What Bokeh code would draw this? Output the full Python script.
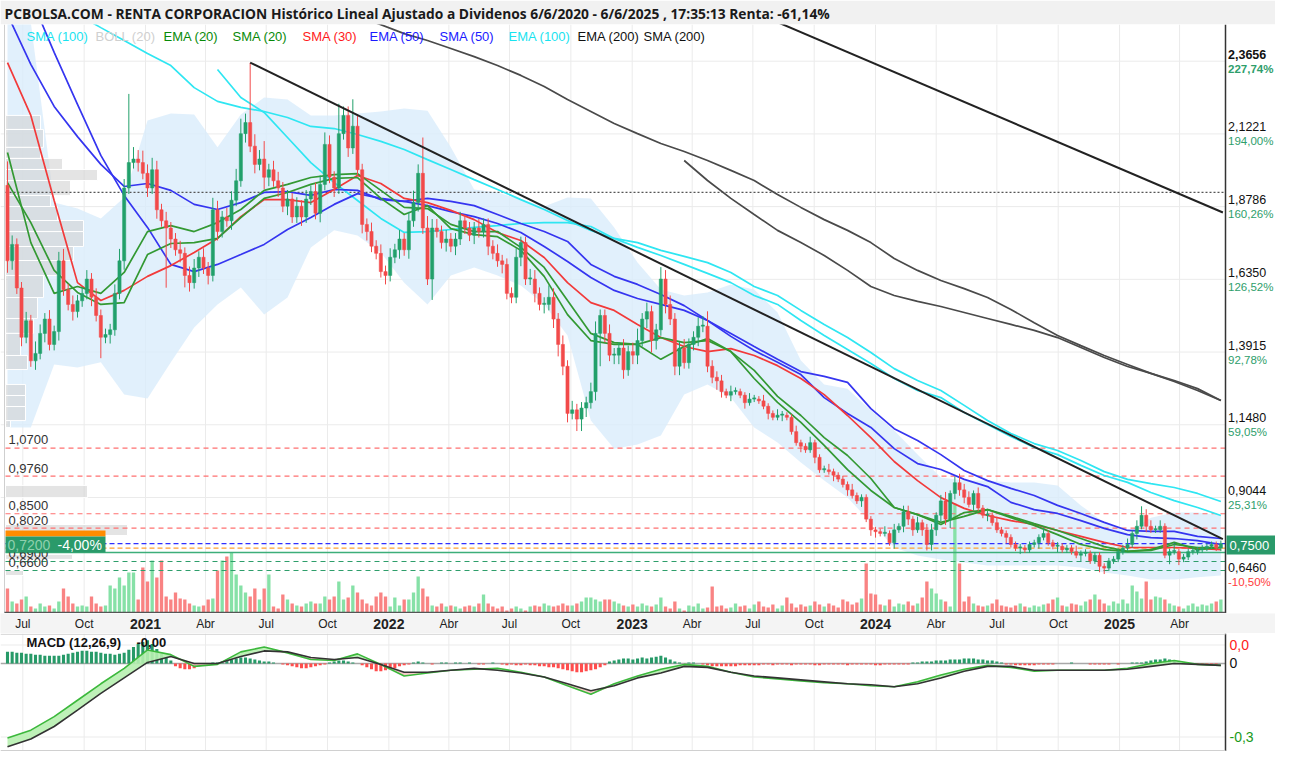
import numpy as np
import pandas as pd
from bokeh.plotting import figure
from bokeh.layouts import column
from bokeh.models import Range1d
from bokeh.core.properties import value
from bokeh.embed import file_html
from bokeh.resources import INLINE

# ============================ DATA ============================
TITLE = ("PCBOLSA.COM - RENTA CORPORACION Histórico Lineal Ajustado a Dividenos "
         "6/6/2020 - 6/6/2025 , 17:35:13 Renta: -61,14%")

first_week = "2020-06-08"          # weekly candles
first_open = 1.95
closes = [
    1.697, 1.752, 1.606, 1.441, 1.496, 1.362, 1.387, 1.454, 1.502, 1.417,
    1.460, 1.697, 1.600, 1.551, 1.527, 1.563, 1.588, 1.636, 1.575, 1.514,
    1.441, 1.450, 1.466, 1.588, 1.697, 1.941, 2.026, 2.038, 2.026, 1.990,
    1.941, 2.002, 1.868, 1.831, 1.807, 1.770, 1.734, 1.722, 1.648, 1.624,
    1.673, 1.709, 1.673, 1.648, 1.868, 1.795, 1.844, 1.831, 1.900, 1.965,
    2.123, 2.160, 2.081, 2.020, 2.038, 1.977, 2.002, 1.965, 1.941, 1.880,
    1.904, 1.844, 1.880, 1.844, 1.904, 1.929,
    1.856, 1.953, 2.087, 1.977, 1.941, 2.123, 2.184, 2.075, 2.148, 2.002,
    1.819, 1.795, 1.746, 1.722, 1.661, 1.648, 1.709, 1.734, 1.770, 1.734,
    1.831, 1.892, 1.990, 1.807, 1.636, 1.807, 1.795, 1.758, 1.770, 1.746,
    1.770, 1.831, 1.807, 1.783, 1.807, 1.795, 1.819, 1.746, 1.722, 1.697,
    1.685, 1.588, 1.575, 1.709, 1.758, 1.636, 1.636, 1.588, 1.551, 1.551,
    1.575, 1.502, 1.417, 1.344, 1.186, 1.198, 1.167, 1.204, 1.222, 1.259,
    1.454, 1.514, 1.454, 1.381, 1.381, 1.405,
    1.332, 1.393, 1.381, 1.430, 1.502, 1.527, 1.430, 1.466, 1.636, 1.551,
    1.502, 1.344, 1.405, 1.356, 1.417, 1.441, 1.478, 1.478, 1.344, 1.307,
    1.295, 1.259, 1.247, 1.259, 1.259, 1.247, 1.222, 1.234, 1.234, 1.228,
    1.210, 1.186, 1.173, 1.180, 1.180, 1.173, 1.125, 1.088, 1.076, 1.064,
    1.088, 1.039, 0.997, 0.997, 0.991, 0.979, 0.966, 0.948, 0.930, 0.911,
    0.893, 0.905, 0.832, 0.796, 0.790, 0.784, 0.784, 0.753, 0.796, 0.808,
    0.857, 0.832, 0.796, 0.820, 0.796, 0.747, 0.796,
    0.845, 0.893, 0.832, 0.918, 0.954, 0.930, 0.905, 0.881, 0.918, 0.869,
    0.845, 0.845, 0.820, 0.796, 0.784, 0.771, 0.747, 0.735, 0.735, 0.729,
    0.747, 0.753, 0.771, 0.784, 0.753, 0.741, 0.741, 0.729, 0.735, 0.723,
    0.711, 0.717, 0.717, 0.692, 0.711, 0.674, 0.668, 0.692, 0.698, 0.723,
    0.735, 0.747, 0.784, 0.808, 0.845, 0.808, 0.796, 0.796, 0.808, 0.711,
    0.723, 0.723, 0.698, 0.705, 0.723, 0.723, 0.729, 0.735, 0.741, 0.747,
    0.735, 0.750]

# upper / lower shadow lengths, in hundredths of a euro
wick_up = [
    8, 3, 2, 2, 3, 2, 4, 3, 2, 3, 2, 3, 4, 2, 3, 2, 2, 3, 2, 3,
    2, 2, 2, 3, 4, 3, 23, 4, 3, 4, 3, 4, 3, 2, 3, 2, 2, 3, 2, 3,
    3, 2, 3, 2, 4, 3, 2, 3, 3, 4, 5, 3, 20, 4, 3, 6, 2, 3, 3, 2,
    3, 2, 3, 2, 3, 2, 3, 3, 4, 3, 2, 10, 3, 3, 9, 4, 2, 2, 3, 2,
    3, 2, 3, 2, 3, 2, 3, 4, 3, 12, 4, 3, 3, 2, 3, 2, 2, 3, 2, 2,
    2, 3, 2, 2, 2, 3, 2, 2, 2, 3, 2, 2, 3, 3, 2, 2, 4, 3, 2, 3,
    2, 3, 2, 2, 2, 3, 4, 2, 2, 3, 2, 2, 3, 2, 3, 4, 2, 3, 2, 2,
    4, 3, 3, 2, 2, 3, 2, 2, 3, 3, 5, 2, 2, 2, 1, 2, 1, 1, 1, 2,
    1, 1, 2, 1, 1, 2, 1, 1, 1, 2, 1, 1, 2, 1, 1, 1, 2, 1, 1, 1,
    1, 2, 1, 1, 1, 1, 1, 1, 2, 1, 2, 1, 2, 2, 1, 2, 1, 2, 2, 1,
    2, 3, 1, 2, 3, 2, 2, 1, 2, 1, 1, 1, 2, 1, 1, 1, 1, 1, 1, 1,
    1, 1, 2, 1, 1, 1, 1, 1, 1, 2, 1, 1, 1, 1, 1, 1, 1, 1, 1, 1,
    2, 1, 2, 3, 2, 2, 1, 2, 1, 1, 2, 1, 1, 1, 1, 1, 1, 1, 1, 1, 1]
wick_dn = [
    4, 3, 2, 3, 2, 2, 3, 2, 3, 2, 2, 3, 2, 2, 3, 2, 2, 2, 3, 2,
    7, 2, 3, 2, 2, 3, 2, 2, 3, 2, 3, 2, 3, 2, 20, 3, 2, 3, 4, 3,
    2, 3, 2, 3, 2, 3, 2, 2, 3, 2, 2, 3, 2, 3, 2, 4, 3, 2, 3, 2,
    3, 2, 2, 3, 2, 2, 2, 3, 2, 2, 3, 2, 2, 3, 2, 2, 3, 3, 2, 2,
    2, 3, 2, 2, 3, 2, 3, 2, 3, 2, 2, 7, 2, 2, 3, 2, 3, 2, 2, 2,
    3, 2, 2, 3, 2, 2, 3, 2, 2, 2, 3, 2, 2, 3, 2, 3, 2, 3, 4, 3,
    3, 2, 4, 4, 3, 2, 3, 11, 3, 2, 3, 3, 3, 2, 3, 3, 2, 3, 4, 3,
    2, 3, 2, 3, 3, 2, 2, 2, 3, 2, 2, 2, 3, 2, 1, 2, 1, 1, 2, 1,
    1, 1, 1, 2, 1, 1, 2, 1, 1, 1, 2, 1, 1, 2, 1, 1, 1, 2, 1, 1,
    2, 1, 1, 2, 1, 2, 2, 1, 1, 1, 2, 1, 2, 2, 2, 1, 2, 2, 2, 2,
    2, 2, 3, 2, 2, 2, 1, 2, 1, 1, 2, 1, 1, 1, 2, 1, 1, 2, 1, 1,
    1, 2, 1, 1, 1, 2, 1, 1, 1, 1, 2, 1, 1, 1, 2, 2, 1, 1, 1, 1,
    1, 1, 2, 1, 2, 1, 1, 1, 1, 3, 1, 2, 1, 1, 1, 1, 1, 1, 1, 1, 1]

# weekly volume (relative units)
volume = [
    25, 12, 10, 14, 17, 7, 5, 10, 7, 8, 5, 12, 25, 17, 10, 7, 8, 7, 17, 10,
    7, 8, 28, 25, 36, 28, 41, 41, 14, 46, 32, 53, 36, 53, 17, 14, 21, 15, 14, 10,
    8, 7, 8, 14, 15, 43, 53, 57, 61, 39, 28, 21, 17, 25, 14, 25, 39, 7, 5, 19,
    14, 10, 8, 7, 10, 12,
    10, 10, 17, 14, 17, 32, 14, 16, 28, 21, 14, 10, 8, 17, 21, 17, 7, 16, 8, 14,
    14, 21, 37, 25, 17, 8, 7, 10, 7, 8, 7, 5, 7, 8, 7, 10, 19, 10, 7, 5,
    7, 3, 5, 7, 5, 3, 7, 8, 7, 10, 8, 7, 8, 10, 8, 8, 10, 12, 16, 16,
    14, 12, 14, 14, 12, 10,
    8, 7, 9, 7, 10, 8, 7, 9, 16, 7, 5, 12, 5, 3, 8, 7, 10, 5, 6, 27,
    7, 8, 5, 6, 10, 7, 8, 5, 9, 12, 7, 6, 9, 5, 8, 16, 10, 6, 9, 7,
    8, 12, 9, 7, 10, 8, 6, 14, 12, 9, 11, 15, 50, 20, 19, 9, 8, 14, 7, 10,
    9, 12, 8, 10, 16, 32, 25,
    20, 14, 12, 7, 110, 50, 12, 17, 10, 8, 7, 8, 10, 14, 8, 7, 6, 8, 10, 7,
    6, 8, 7, 9, 10, 14, 16, 8, 7, 10, 9, 8, 12, 14, 19, 14, 10, 8, 12, 10,
    14, 10, 28, 22, 15, 32, 14, 17, 16, 14, 10, 8, 7, 5, 8, 10, 7, 9, 8, 10,
    12, 14]

# indicators, one value every 5 weeks
ma_step = 5
ema20 = [2.060, 1.758, 1.588, 1.611, 1.588, 1.658, 1.795, 1.815, 1.795, 1.825,
         1.869, 1.933, 1.953, 1.976, 1.986, 1.989, 1.933, 1.876, 1.872, 1.819,
         1.795, 1.795, 1.742, 1.675, 1.564, 1.454, 1.423, 1.417, 1.367, 1.410,
         1.437, 1.393, 1.330, 1.243, 1.179, 1.105, 1.045, 0.968, 0.871, 0.847,
         0.821, 0.841, 0.864, 0.841, 0.817, 0.794, 0.767, 0.740, 0.724, 0.727,
         0.747, 0.737, 0.737]
sma20 = [1.959, 1.825, 1.665, 1.591, 1.551, 1.557, 1.718, 1.755, 1.758, 1.772,
         1.842, 1.906, 1.926, 1.953, 1.973, 1.976, 1.906, 1.852, 1.882, 1.805,
         1.785, 1.778, 1.732, 1.645, 1.517, 1.430, 1.417, 1.417, 1.440, 1.423,
         1.430, 1.393, 1.303, 1.223, 1.156, 1.079, 0.998, 0.928, 0.871, 0.847,
         0.814, 0.854, 0.864, 0.837, 0.811, 0.780, 0.747, 0.730, 0.724, 0.730,
         0.754, 0.730, 0.737]
sma30 = [2.361, 2.184, 1.899, 1.624, 1.564, 1.598, 1.645, 1.681, 1.725, 1.772,
         1.845, 1.902, 1.902, 1.892, 1.936, 1.983, 1.956, 1.906, 1.892, 1.866,
         1.835, 1.792, 1.765, 1.708, 1.624, 1.557, 1.531, 1.484, 1.440, 1.410,
         1.393, 1.403, 1.380, 1.346, 1.303, 1.249, 1.179, 1.105, 1.025, 0.961,
         0.904, 0.868, 0.844, 0.827, 0.814, 0.794, 0.774, 0.754, 0.737, 0.737,
         0.737, 0.734, 0.730]
ema50 = [2.522, 2.355, 2.214, 2.113, 2.020, 1.946, 1.956, 1.933, 1.886, 1.869,
         1.892, 1.926, 1.929, 1.916, 1.936, 1.933, 1.902, 1.896, 1.906, 1.896,
         1.882, 1.852, 1.822, 1.795, 1.762, 1.685, 1.645, 1.618, 1.584, 1.547,
         1.497, 1.454, 1.410, 1.367, 1.326, 1.310, 1.290, 1.202, 1.135, 1.095,
         1.048, 0.995, 0.961, 0.935, 0.911, 0.878, 0.851, 0.821, 0.794, 0.791,
         0.791, 0.774, 0.767]
sma50 = [2.763, 2.579, 2.395, 2.221, 2.050, 1.916, 1.809, 1.685, 1.661, 1.685,
         1.718, 1.752, 1.802, 1.842, 1.886, 1.922, 1.906, 1.896, 1.882, 1.862,
         1.845, 1.822, 1.792, 1.745, 1.695, 1.641, 1.598, 1.571, 1.551, 1.531,
         1.497, 1.444, 1.397, 1.357, 1.316, 1.239, 1.186, 1.139, 1.068, 1.018,
         0.998, 0.965, 0.941, 0.888, 0.864, 0.851, 0.827, 0.801, 0.780, 0.770,
         0.767, 0.760, 0.747]
ema100 = [2.646, 2.602, 2.562, 2.522, 2.478, 2.435, 2.391, 2.351, 2.277, 2.231,
          2.211, 2.197, 2.177, 2.147, 2.140, 2.120, 2.097, 2.070, 2.036, 2.003,
          1.969, 1.936, 1.902, 1.869, 1.832, 1.799, 1.772, 1.758, 1.732, 1.712,
          1.691, 1.658, 1.611, 1.581, 1.531, 1.484, 1.440, 1.390, 1.336, 1.296,
          1.263, 1.213, 1.162, 1.119, 1.085, 1.062, 1.028, 0.991, 0.965, 0.951,
          0.938, 0.918, 0.891]
sma100 = [None] * 9 + [
          2.338, 2.244, 2.194, 2.110, 2.026, 1.959, 1.899, 1.839, 1.792, 1.795,
          1.802, 1.809, 1.815, 1.822, 1.825, 1.825, 1.812, 1.772, 1.742, 1.715,
          1.685, 1.655, 1.624, 1.581, 1.551, 1.497, 1.447, 1.400, 1.353, 1.303,
          1.263, 1.239, 1.189, 1.149, 1.109, 1.072, 1.048, 1.012, 0.978, 0.955,
          0.921, 0.894, 0.871, 0.844]
ema200 = [None] * 14 + [
          2.545, 2.515, 2.488, 2.458, 2.435, 2.408, 2.381, 2.351, 2.318, 2.281,
          2.237, 2.197, 2.157, 2.123, 2.090, 2.063, 2.033, 2.000, 1.966, 1.919,
          1.876, 1.835, 1.799, 1.758, 1.705, 1.665, 1.631, 1.604, 1.574, 1.534,
          1.490, 1.447, 1.413, 1.380, 1.350, 1.320, 1.293, 1.263, 1.229]
sma200 = [None] * 29 + [
          2.033, 1.966, 1.906, 1.852, 1.799, 1.758, 1.715, 1.665, 1.611, 1.581,
          1.561, 1.544, 1.524, 1.504, 1.484, 1.464, 1.440, 1.407, 1.373, 1.343,
          1.320, 1.296, 1.269, 1.229]
boll_up = [2.529, 2.495, 1.892, 1.872, 1.839, 1.909, 2.167, 2.190, 2.187, 2.077,
           2.187, 2.244, 2.237, 2.184, 2.184, 2.190, 2.197, 2.207, 2.200, 2.077,
           1.936, 1.926, 1.902, 1.879, 1.909, 1.906, 1.809, 1.691, 1.601, 1.581,
           1.591, 1.618, 1.601, 1.524, 1.363, 1.283, 1.269, 1.196, 1.129, 1.048,
           0.971, 0.961, 0.961, 0.955, 0.955, 0.945, 0.878, 0.821, 0.787, 0.837,
           0.854, 0.854, 0.844]
boll_lo = [1.139, 1.139, 1.350, 1.340, 1.357, 1.249, 1.236, 1.357, 1.474, 1.551,
           1.608, 1.517, 1.574, 1.742, 1.799, 1.782, 1.725, 1.624, 1.551, 1.648,
           1.675, 1.648, 1.614, 1.551, 1.447, 1.162, 1.068, 1.082, 1.112, 1.249,
           1.283, 1.239, 1.139, 1.089, 1.022, 0.961, 0.904, 0.821, 0.737, 0.710,
           0.697, 0.687, 0.677, 0.677, 0.677, 0.677, 0.670, 0.653, 0.643, 0.630,
           0.630, 0.637, 0.643]
macd = [-0.304, -0.272, -0.217, -0.150, -0.083, -0.020, 0.055, 0.036, -0.012, -0.004,
        0.047, 0.067, 0.043, 0.016, 0.012, 0.039, -0.004, -0.051, -0.039, -0.028,
        -0.024, -0.020, -0.036, -0.055, -0.091, -0.126, -0.083, -0.051, -0.024, -0.004,
        -0.012, -0.036, -0.055, -0.063, -0.071, -0.079, -0.083, -0.091, -0.095, -0.075,
        -0.047, -0.024, -0.008, -0.016, -0.032, -0.028, -0.028, -0.028, -0.020, 0.000,
        0.012, -0.004, -0.008]
macd_signal = [-0.340, -0.308, -0.257, -0.190, -0.122, -0.059, 0.004, 0.028, 0.000, 0.000,
               0.028, 0.051, 0.047, 0.024, 0.016, 0.024, -0.004, -0.036, -0.036, -0.028,
               -0.020, -0.028, -0.039, -0.055, -0.083, -0.111, -0.091, -0.059, -0.039, -0.012,
               -0.016, -0.036, -0.051, -0.059, -0.067, -0.075, -0.083, -0.087, -0.095, -0.083,
               -0.059, -0.032, -0.012, -0.012, -0.028, -0.028, -0.028, -0.028, -0.024, -0.012,
               0.000, -0.004, -0.008]
# weekly histogram (chart units, 1 = 1/253 of MACD)
macd_hist = [
    12, 12, 11, 11, 10, 10, 9, 9, 8, 8, 8, 8,
    9, 10, 11, 12, 13, 13, 12, 12, 11, 10, 10, 9, 10, 11,
    14, 17, 20, 22, 24, 20, 15, 10, 6, 3,
    -3, -5, -6, -6, -5, -3, 0, 0, 1, 1, 2,
    3, 4, 5, 6, 6, 5, 4, 3, 2, 2, 1, 0, -1, -2,
    -3, -4, -5, -5, -4, -3, -2, -1, 1, 2, 3, 3, 2, 1, 0,
    -2, -4, -6, -8, -8, -7, -6, -5, -3, -2, -1,
    1, 2, 1, 0, -1, 0, 1, 1, 0,
    1, 1, 0, 1, 0, -1, -1, 0, 1, 0,
    -1, -2, -1, -2, -2, -1, -2, -2, -3,
    -3, -4, -4, -5, -6, -7, -8, -9, -9, -8, -7, -6, -4, -2,
    2, 3, 4, 5, 5, 4, 5, 6, 5, 6, 7, 8, 6, 4, 2, 1,
    0, 1, 1, 0, -1,
    -2, -3, -3, -3, -3, -3, -3, -2, -2, -2, -2, -2,
    -1, -1, -2, -1, -1, -1, -2, -1, -1, -1, -1, -2, -2, -1, -1, -1,
    -1, -1, -2, -1, -1, -1, -1, -1, -2, -2, -1, -1, -1, -1, -1, -1,
    1, 1, 2, 2, 2, 3, 3, 3, 4, 4, 4, 5, 5, 5, 4, 4, 3, 3, 2, 1,
    -1, -1, -2, -2, -2, -2, -2, -1, -1, -1, -1,
    0, 0, 0, 1, 0, 0, 0, -1,
    -1, -1, -1, -1, 0, -1, 0, 0, 1, 1, 1,
    2, 3, 4, 4, 5, 4, 3, 2, 1, 0,
    -1, -1, -1, -1, -1, -1, 0]

# volume-at-price profile (left)
vp_lo = [2.137, 2.077, 2.040, 2.003, 1.966, 1.916, 1.879, 1.832, 1.795, 1.745, 1.698, 1.648,
         1.574, 1.504, 1.454, 1.380, 1.333, 1.246, 1.209, 1.162, 1.139, 0.904, 0.777, 0.697, 0.643]
vp_hi = [2.184, 2.137, 2.077, 2.040, 2.003, 1.966, 1.916, 1.879, 1.832, 1.795, 1.745, 1.698,
         1.648, 1.574, 1.504, 1.454, 1.380, 1.283, 1.246, 1.209, 1.162, 0.945, 0.814, 0.714, 0.660]
vp_vol = [32, 35, 32, 54, 89, 62, 42, 49, 75, 75, 65, 55,
          35, 29, 25, 12, 19, 17, 17, 17, 2, 79, 119, 64, 15]

# drawn lines / levels
trend1_dates, trend1_prices = ["2021-06-07", "2025-06-05"], [2.361, 0.765]
trend2_dates, trend2_prices = ["2023-08-03", "2025-06-05"], [2.500, 1.859]
dotted_level = 1.926
red_levels = [1.07, 0.976, 0.85, 0.802]
red_level_labels = ["1,0700", "0,9760", "0,8500", "0,8020"]
green_levels = [0.69, 0.66]
green_level_labels = ["0,6900", "0,6600"]
last_price, last_label = 0.75, "0,7500"
orange_level = 0.735
entry_level, entry_label, entry_pct = 0.72, "0,7200", "-4,00%"

price_ticks = [2.3656, 2.1221, 1.8786, 1.6350, 1.3915, 1.1480, 0.9044]
price_tick_labels = ["2,3656", "2,1221", "1,8786", "1,6350", "1,3915", "1,1480", "0,9044"]
pct_tick_labels = ["227,74%", "194,00%", "160,26%", "126,52%", "92,78%", "59,05%", "25,31%"]
low_tick, low_tick_label, low_pct_label = 0.646, "0,6460", "-10,50%"

xtick_dates = ["2020-07-01", "2020-10-01", "2021-01-01", "2021-04-01", "2021-07-01", "2021-10-01",
               "2022-01-01", "2022-04-01", "2022-07-01", "2022-10-01", "2023-01-01", "2023-04-01",
               "2023-07-01", "2023-10-01", "2024-01-01", "2024-04-01", "2024-07-01", "2024-10-01",
               "2025-01-01", "2025-04-01"]
xtick_labels = ["Jul", "Oct", "2021", "Abr", "Jul", "Oct", "2022", "Abr", "Jul", "Oct", "2023", "Abr",
                "Jul", "Oct", "2024", "Abr", "Jul", "Oct", "2025", "Abr"]

legend_names = ["SMA (100)", "BOLL (20)", "EMA (20)", "SMA (20)", "SMA (30)",
                "EMA (50)", "SMA (50)", "EMA (100)", "EMA (200)", "SMA (200)"]
legend_colors = ["#19e3ef", "#d0d0d0", "#088a08", "#088a08", "#ff1a1a",
                 "#1a1aff", "#1a1aff", "#19e3ef", "#111111", "#111111"]
macd_label, macd_value = "MACD (12,26,9)", "-0,00"
macd_ticks = [0.075, 0.0, -0.3]
macd_tick_labels = ["0,0", "0", "-0,3"]

# ============================ LAYOUT HELPERS ============================
W = 1275
H_PRICE, H_BAND, H_MACD = 589, 20, 118
PX_PER_DAY = 0.6667
ORIGIN, ORIGIN_PX = pd.Timestamp("2021-01-01"), 145.0
FONT = "Liberation Sans, Arial, sans-serif"


def ms(d):
    return pd.Timestamp(d).value / 1e6


def xd(px):
    return (ORIGIN + pd.Timedelta(days=(px - ORIGIN_PX) / PX_PER_DAY)).value / 1e6


def yp(py):
    return 0.9044 + (495.0 - py) / 298.6


def fit(lst, n, fill):
    lst = list(lst)[:n]
    return lst + [fill] * (n - len(lst))


n = len(closes)
wick_up = fit(wick_up, n, 1)
wick_dn = fit(wick_dn, n, 1)
volume = fit(volume, n, 5)
macd_hist = fit(macd_hist, n, 0)

dates = pd.date_range(first_week, periods=n, freq="7D")
x = dates.values.astype("datetime64[ms]").astype("int64").astype(float)
ma_x = x[::ma_step]
m = len(ma_x)


def nz(lst):
    return [np.nan if v is None else v for v in fit(lst, m, None)]


opens = [first_open] + closes[:-1]
up = [c >= o for o, c in zip(opens, closes)]
body_top = [max(o, c) for o, c in zip(opens, closes)]
body_bot = [min(o, c) for o, c in zip(opens, closes)]
body_top = [max(t, b + 0.004) for t, b in zip(body_top, body_bot)]
highs = [t + u / 100 for t, u in zip(body_top, wick_up)]
lows = [b - d / 100 for b, d in zip(body_bot, wick_dn)]
UP, DN = "#22a06b", "#f24a4a"
ccol = [UP if u else DN for u in up]
vcol = ["#86e1a7" if u else "#f98383" for u in up]
DAY = 86400000.0
X0, X1, AX = xd(0), xd(W), xd(1225)
xr = Range1d(X0, X1)
grid_x = [ms(d) for d in xtick_dates]


def txt(fig, xx, yy, s, color, size="13px", bold=False, align="left", font=FONT):
    fig.text(x=[xx], y=[yy], text=[s], text_color=color, text_font=value(font),
             text_font_size=value(size), text_font_style="bold" if bold else "normal",
             text_align=align, text_baseline="middle")


# ============================ PRICE PANEL ============================
p1 = figure(frame_width=W, frame_height=H_PRICE, x_range=xr, y_range=Range1d(yp(611), yp(22)),
            x_axis_type=None, y_axis_type=None, output_backend="svg", toolbar_location=None,
            min_border=0, title=TITLE, background_fill_color="white", border_fill_color="#f1f1f1")
p1.outline_line_color = None
p1.title.text_font = "Open Sans"
p1.title.text_font_size = "13.8px"
p1.title.text_font_style = "bold"
p1.title.text_color = "#1a1a1a"
p1.title.standoff = 3
p1.title.offset = 4
p1.extra_y_ranges = {"vol": Range1d(0, H_PRICE)}
p1.extra_x_ranges = {"vp": Range1d(-8, W - 8)}

# grid
p1.segment(x0=grid_x, x1=grid_x, y0=yp(611), y1=yp(22), line_color="#ebebeb", line_width=1)
p1.segment(x0=X0, x1=AX, y0=price_ticks, y1=price_ticks, line_color="#ebebeb", line_width=1)

# Bollinger band
p1.varea(x=ma_x, y1=boll_lo, y2=boll_up, fill_color="#d9ecfb", fill_alpha=0.8)

# volume
p1.vbar(x=x, width=5 * DAY, top=volume, bottom=0, fill_color=vcol, line_color=None,
        y_range_name="vol")

# volume profile
p1.quad(left=-3, right=vp_vol, bottom=vp_lo, top=vp_hi, x_range_name="vp",
        fill_color="#d2d2d2", fill_alpha=0.6, line_color="white", line_width=1)

# level lines
p1.segment(x0=xd(5), x1=AX, y0=red_levels, y1=red_levels, line_color="#ff7070",
           line_dash="5 4", line_width=1.2)
p1.segment(x0=xd(5), x1=AX, y0=green_levels, y1=green_levels, line_color="#2e9e6b",
           line_dash="5 4", line_width=1.2)
p1.segment(x0=xd(5), x1=AX, y0=[last_price], y1=[last_price], line_color="#3030ff",
           line_dash="5 3", line_width=1.3)
p1.segment(x0=xd(5), x1=AX, y0=[orange_level], y1=[orange_level], line_color="#ffa030",
           line_dash="5 3", line_width=1.3)
p1.segment(x0=xd(5), x1=AX, y0=[entry_level], y1=[entry_level], line_color="#3cae7a",
           line_width=1.6)
p1.segment(x0=xd(5), x1=AX, y0=[dotted_level], y1=[dotted_level], line_color="#555555",
           line_dash="2 2", line_width=1.2)

# moving averages
for series, color in [(sma200, "#4a4a4a"), (ema200, "#4a4a4a"),
                      (sma100, "#2fe6f2"), (ema100, "#2fe6f2"),
                      (sma50, "#3535f0"), (ema50, "#3535f0"),
                      (sma30, "#f23a3a"), (sma20, "#339933"), (ema20, "#339933")]:
    p1.line(x=ma_x, y=nz(series), line_color=color, line_width=1.7)

# candles
p1.segment(x0=x, x1=x, y0=lows, y1=highs, line_color=ccol, line_width=1)
p1.vbar(x=x, width=4.8 * DAY, top=body_top, bottom=body_bot, fill_color=ccol, line_color=ccol,
        line_width=0.5)

# trendlines
p1.line(x=[ms(d) for d in trend1_dates], y=trend1_prices, line_color="#222222", line_width=2)
p1.line(x=[ms(d) for d in trend2_dates], y=trend2_prices, line_color="#222222", line_width=2)

# frame lines
p1.segment(x0=[xd(4)], x1=[xd(4)], y0=yp(611), y1=yp(22), line_color="#cfcfcf", line_width=1)
p1.segment(x0=[AX], x1=[AX], y0=yp(611), y1=yp(22), line_color="#333333", line_width=1.5)
p1.segment(x0=xd(4), x1=AX, y0=yp(610), y1=yp(610), line_color="#555555", line_width=1.5)

# left level labels
for lv, lab in zip(red_levels + green_levels, red_level_labels + green_level_labels):
    txt(p1, xd(8), lv + 0.027, lab, "#333333")
p1.quad(left=xd(5), right=xd(105), bottom=yp(534), top=yp(528), fill_color="#ff8c00",
        line_color=None)
p1.quad(left=xd(5), right=xd(105), bottom=yp(550), top=yp(534), fill_color="#2a9a6a",
        line_color=None)
txt(p1, xd(7), yp(542), entry_label, "#8fd0ae", size="14px")
txt(p1, xd(57), yp(542), entry_pct, "white", size="14px")

# right axis labels (the frame ends at x=1275, so they are kept compact)
for i, (tv, tl, pl) in enumerate(zip(price_ticks, price_tick_labels, pct_tick_labels)):
    txt(p1, xd(1227.5), tv + 7 / 298.6, tl, "#111111", size="12.5px", bold=(i == 0))
    txt(p1, xd(1227.5), tv - 7.5 / 298.6, pl, "#2e9e6b", size="11.5px", bold=(i == 0))
txt(p1, xd(1227.5), low_tick + 7 / 298.6, low_tick_label, "#111111", size="12.5px")
txt(p1, xd(1227.5), low_tick - 7.5 / 298.6, low_pct_label, "#ff3b3b", size="11.5px")
p1.quad(left=xd(1226), right=X1, bottom=yp(552), top=yp(533), fill_color="#2a9a6a",
        line_color=None)
txt(p1, xd(1229), yp(542.5), last_label, "white", size="13px")

# legend
legend_px = [26, 95, 163, 232, 302, 369, 439, 508, 577, 643]
for px, name, col in zip(legend_px, legend_names, legend_colors):
    txt(p1, xd(px), yp(34), name, col)

# ============================ DATE BAND ============================
p2 = figure(frame_width=W, frame_height=H_BAND, x_range=xr, y_range=Range1d(0, 1),
            x_axis_type=None, y_axis_type=None, output_backend="svg", toolbar_location=None,
            min_border=0, background_fill_color="#f4f4f4", border_fill_color="#f4f4f4")
p2.outline_line_color = None
for d, lab in zip(xtick_dates, xtick_labels):
    yr = lab.isdigit()
    txt(p2, ms(d), 0.5, lab, "#222222", size="14px" if yr else "12px", bold=yr, align="center")

# ============================ MACD PANEL ============================
p3 = figure(frame_width=W, frame_height=H_MACD, x_range=xr, y_range=Range1d(-0.359, 0.122),
            x_axis_type=None, y_axis_type=None, output_backend="svg", toolbar_location=None,
            min_border=0, background_fill_color="white", border_fill_color="white")
p3.outline_line_color = None
p3.segment(x0=grid_x, x1=grid_x, y0=-0.359, y1=0.122, line_color="#ebebeb", line_width=1)
p3.segment(x0=X0, x1=AX, y0=[0.075, -0.3], y1=[0.075, -0.3], line_color="#ebebeb", line_width=1)
p3.segment(x0=X0, x1=AX, y0=[0.0], y1=[0.0], line_color="#a8a8a8", line_width=1.5)
hv = [h / 253.3 for h in macd_hist]
p3.vbar(x=x, width=4.6 * DAY, top=hv, bottom=0,
        fill_color=["#279a68" if h > 0 else "#ff4d4d" for h in hv], line_color=None)
mac = np.array(macd[:m], dtype=float)
sig = np.array(macd_signal[:m], dtype=float)
p3.varea(x=ma_x, y1=sig, y2=np.maximum(mac, sig), fill_color="#b7efb0", fill_alpha=0.9)
p3.varea(x=ma_x, y1=sig, y2=np.minimum(mac, sig), fill_color="#f5c4c4", fill_alpha=0.9)
p3.line(x=ma_x, y=mac, line_color="#3cb83c", line_width=1.6)
p3.line(x=ma_x, y=sig, line_color="#333333", line_width=1.6)
p3.segment(x0=[AX], x1=[AX], y0=-0.359, y1=0.122, line_color="#333333", line_width=1.5)
p3.segment(x0=X0, x1=AX, y0=0.119, y1=0.119, line_color="#d0d0d0", line_width=1)
p3.segment(x0=X0, x1=AX, y0=-0.356, y1=-0.356, line_color="#d0d0d0", line_width=1.5)
txt(p3, xd(26), 0.085, macd_label, "#111111", bold=True)
txt(p3, xd(136), 0.085, macd_value, "#111111", bold=True)
for tv, tl, col in zip(macd_ticks, macd_tick_labels, ["#ff2020", "#111111", "#1a9a1a"]):
    txt(p3, xd(1229), tv, tl, col, size="14px")

layout = column(p1, p2, p3)
open("out.html", "w").write(file_html(layout, INLINE, title="RENTA CORPORACION"))
